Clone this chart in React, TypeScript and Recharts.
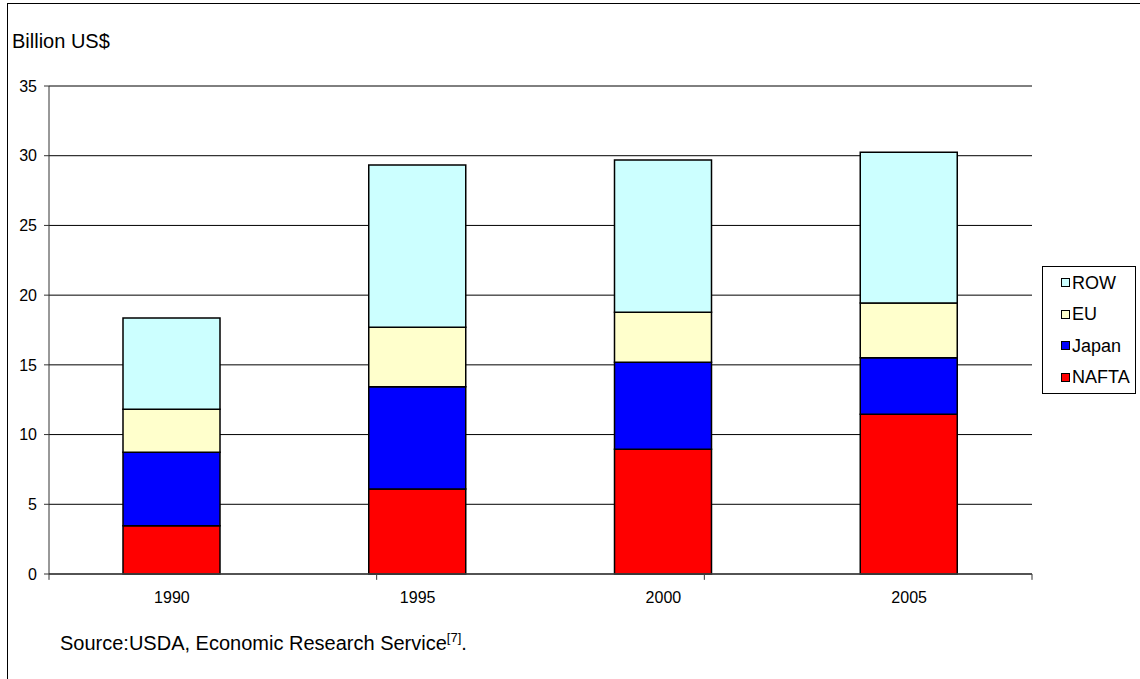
import { Bar, BarChart, CartesianGrid, Legend, ReferenceLine, XAxis, YAxis } from "recharts";

const FONT = "'Liberation Sans', Arial, Helvetica, sans-serif";

const years = ["1990", "1995", "2000", "2005"];
const nafta = [3.46, 6.1, 8.94, 11.45];
const japan = [5.27, 7.33, 6.24, 4.06];
const eu = [3.08, 4.26, 3.59, 3.93];
const row = [6.55, 11.64, 10.92, 10.8];
const yTicks = [0, 5, 10, 15, 20, 25, 30, 35];
// category boundaries, where Excel puts its x tick marks
const edgeTicks = [0, 1, 2, 3, 4];

const series = [
  { key: "NAFTA", values: nafta, color: "#ff0000" },
  { key: "Japan", values: japan, color: "#0000ff" },
  { key: "EU", values: eu, color: "#ffffcc" },
  { key: "ROW", values: row, color: "#ccffff" },
];

const data = years.map((year, i) => {
  const point: Record<string, string | number> = { year };
  series.forEach((s) => {
    point[s.key] = s.values[i];
  });
  return point;
});

function StackLegend() {
  const items = [...series].reverse();
  return (
    <div
      style={{
        width: 94,
        height: 128,
        boxSizing: "border-box",
        border: "1px solid #000",
        background: "#fff",
      }}
    >
      {items.map((s) => (
        <div key={s.key} style={{ height: 31.5, display: "flex", alignItems: "center", paddingLeft: 18 }}>
          <span
            style={{
              display: "inline-block",
              width: 7,
              height: 7,
              border: "1px solid #000",
              background: s.color,
              marginRight: 2,
            }}
          />
          <span style={{ fontFamily: FONT, fontSize: 18, lineHeight: 1, color: "#000" }}>{s.key}</span>
        </div>
      ))}
    </div>
  );
}

export default function App() {
  return (
    <div style={{ position: "absolute", left: 0, top: 0, width: 1140, height: 679, background: "#fff", overflow: "hidden" }}>
      <div
        style={{
          position: "absolute",
          left: 7,
          top: 3,
          width: 1200,
          height: 700,
          borderLeft: "1px solid #000",
          borderTop: "1px solid #000",
        }}
      />
      <div style={{ position: "absolute", left: 12, top: 31, fontFamily: FONT, fontSize: 20, lineHeight: 1, color: "#000" }}>
        Billion US$
      </div>
      <BarChart
        width={1140}
        height={679}
        data={data}
        margin={{ top: 86, right: 108, bottom: 75, left: 9 }}
        barSize={97}
      >
        <CartesianGrid horizontal vertical={false} stroke="#000" strokeWidth={1} />
        <XAxis
          dataKey="year"
          height={30}
          tickLine={false}
          tickSize={0}
          tickMargin={18}
          axisLine={{ stroke: "#444", strokeWidth: 1.5 }}
          tick={{ fill: "#000", fontSize: 16, fontFamily: FONT }}
        />
        <XAxis xAxisId="edges" type="number" domain={[0, 4]} hide />
        <YAxis
          width={40}
          domain={[0, 35]}
          ticks={yTicks}
          interval={0}
          tickSize={5}
          tickMargin={7}
          axisLine={{ stroke: "#333" }}
          tickLine={{ stroke: "#333" }}
          tick={{ fill: "#000", fontSize: 16, fontFamily: FONT }}
        />
        <ReferenceLine y={35} stroke="#808080" />
        <ReferenceLine xAxisId="edges" x={4} stroke="#808080" />
        {series.map((s) => (
          <Bar
            key={s.key}
            dataKey={s.key}
            stackId="a"
            fill={s.color}
            stroke="#000"
            strokeWidth={1.5}
            isAnimationActive={false}
          />
        ))}
        {edgeTicks.map((t) => (
          <ReferenceLine
            key={`edge-${t}`}
            xAxisId="edges"
            segment={[
              { x: t, y: 0 },
              { x: t, y: -0.42 },
            ]}
            ifOverflow="visible"
            stroke="#333"
          />
        ))}
        <Legend
          layout="horizontal"
          verticalAlign="middle"
          align="center"
          content={() => <StackLegend />}
          wrapperStyle={{ left: 1042, top: 266, width: 94, height: 128 }}
        />
      </BarChart>
      <div style={{ position: "absolute", left: 60, top: 631, fontFamily: FONT, fontSize: 20, lineHeight: 1, color: "#000", whiteSpace: "nowrap" }}>
        Source:USDA, Economic Research Service<sup style={{ fontSize: 13 }}>[7]</sup>.
      </div>
    </div>
  );
}
